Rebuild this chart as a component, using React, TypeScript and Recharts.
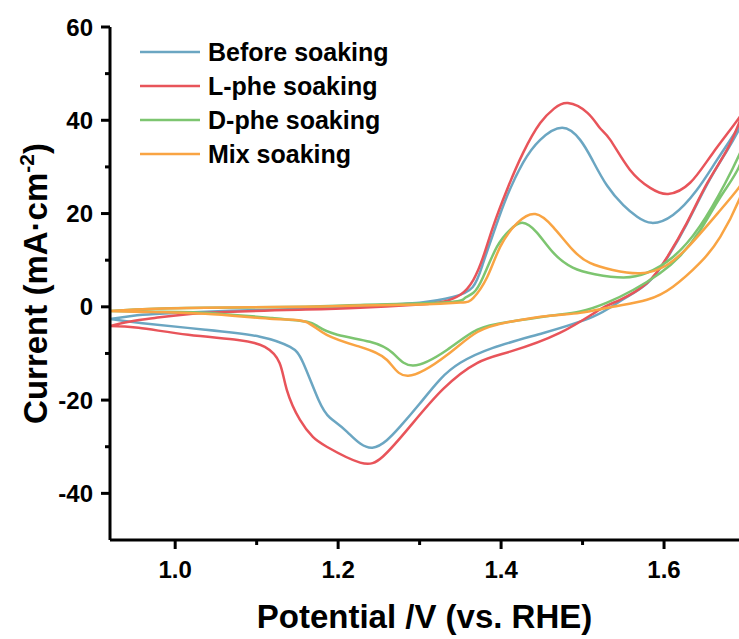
import React from 'react';
import { LineChart, Line, XAxis, YAxis, Legend, Label } from 'recharts';

// CV loops: forward sweep 0.92 -> 1.70 V, then reverse back to 0.92 V
const beforeSoaking: [number, number][] = [
  [0.92, -2.6], [0.96, -1.7], [1.0, -1.3], [1.08, -0.8], [1.16, -0.4], [1.227, 0.2], [1.3, 0.9],
  [1.341, 2.1], [1.365, 4.2], [1.378, 9.4], [1.392, 16.5], [1.407, 23.6], [1.427, 30.9], [1.448, 35.8],
  [1.475, 38.4], [1.497, 35.8], [1.512, 31.5], [1.53, 26.0], [1.55, 21.8], [1.567, 19.3], [1.585, 18.0],
  [1.611, 19.7], [1.64, 25], [1.665, 31.5], [1.692, 38.6], [1.7, 40.8],
  [1.692, 38.0], [1.677, 33.4], [1.653, 26.3], [1.628, 17.8], [1.604, 10.5], [1.579, 5.0], [1.546, 1.2],
  [1.513, -2.1], [1.452, -5.6], [1.39, -8.8], [1.35, -12], [1.325, -15.6], [1.3, -20.8], [1.276, -25.7],
  [1.242, -30.2], [1.211, -26.8], [1.19, -23.8], [1.176, -20.0], [1.157, -12], [1.141, -8.6], [1.104, -6.4],
  [1.037, -4.9], [0.96, -3.5], [0.92, -2.6],
];

const lPheSoaking: [number, number][] = [
  [0.92, -4.1], [0.95, -3.0], [0.975, -2.4], [1.037, -1.3], [1.16, -0.6], [1.227, -0.2], [1.3, 0.5],
  [1.329, 1.1], [1.35, 2.6], [1.366, 5.8], [1.378, 10.7], [1.39, 17.1], [1.407, 25], [1.427, 33],
  [1.448, 39.4], [1.465, 42.5], [1.482, 43.7], [1.506, 41.6], [1.521, 38.4], [1.534, 35.8], [1.558, 29.4],
  [1.583, 25.5], [1.605, 24.2], [1.632, 26.6], [1.66, 33], [1.692, 40.5], [1.7, 42.8],
  [1.692, 39.4], [1.677, 33.6], [1.653, 26.5], [1.628, 18], [1.604, 10.7], [1.579, 5.1], [1.546, 1.5],
  [1.521, -0.6], [1.472, -5.6], [1.411, -9.6], [1.371, -12], [1.329, -17.6], [1.288, -25.7], [1.255, -32.1],
  [1.227, -33.4], [1.186, -30], [1.169, -27.9], [1.153, -24.2], [1.137, -17.8], [1.128, -12], [1.11, -8.6],
  [1.077, -7.1], [1.016, -6.0], [0.955, -4.5], [0.92, -4.1],
];

const dPheSoaking: [number, number][] = [
  [0.92, -0.9], [0.96, -0.5], [1.037, -0.2], [1.16, 0], [1.227, 0.4], [1.33, 0.9], [1.355, 1.8],
  [1.366, 3.0], [1.378, 6.4], [1.395, 12.9], [1.411, 16.5], [1.426, 18], [1.444, 15.9], [1.464, 11.6],
  [1.488, 8.4], [1.515, 7.0], [1.55, 6.3], [1.579, 7.3], [1.611, 10.7], [1.644, 17.3], [1.675, 26.5],
  [1.692, 32.5], [1.7, 35],
  [1.692, 30], [1.669, 23.5], [1.644, 16.3], [1.62, 11], [1.595, 7.2], [1.562, 3.6], [1.53, 0.9],
  [1.497, -1.0], [1.46, -1.9], [1.411, -3.2], [1.371, -4.9], [1.334, -9.2], [1.292, -12.6], [1.267, -9.9],
  [1.239, -7.5], [1.199, -6.0], [1.175, -4.2], [1.162, -3.2], [1.119, -2.4], [1.037, -1.3], [0.96, -1.0],
  [0.92, -0.9],
];

const mixSoaking: [number, number][] = [
  [0.92, -0.9], [0.96, -0.5], [1.037, -0.2], [1.16, 0], [1.227, 0.3], [1.3, 0.5], [1.35, 0.9],
  [1.366, 1.9], [1.383, 6.4], [1.399, 12.9], [1.42, 18], [1.442, 19.9], [1.464, 17.1], [1.488, 12.2],
  [1.509, 9.4], [1.537, 7.9], [1.571, 7.2], [1.602, 8.8], [1.632, 13.3], [1.666, 20.1], [1.692, 25.6],
  [1.7, 27.5],
  [1.692, 22.9], [1.669, 15], [1.644, 9.4], [1.611, 4.3], [1.579, 1.5], [1.537, 0], [1.497, -1.3],
  [1.46, -1.9], [1.411, -3.2], [1.371, -5.4], [1.334, -10.3], [1.286, -14.8], [1.26, -11.4], [1.227, -8.6],
  [1.186, -6.0], [1.16, -3.2], [1.12, -2.6], [1.037, -1.5], [0.96, -1.1], [0.92, -0.9],
];

const xTicks = [1.0, 1.1, 1.2, 1.3, 1.4, 1.5, 1.6];
const yTicks = [-40, -30, -20, -10, 0, 10, 20, 30, 40, 50, 60];

const series = [
  { name: 'Before soaking', color: '#6BA6C2', points: beforeSoaking },
  { name: 'L-phe soaking', color: '#E8545A', points: lPheSoaking },
  { name: 'D-phe soaking', color: '#7DC570', points: dPheSoaking },
  { name: 'Mix soaking', color: '#F9A443', points: mixSoaking },
];

const font = 'Arial, "Liberation Sans", sans-serif';

const YTick = (props: any) => {
  const { x, y, payload } = props;
  const major = payload.value % 20 === 0;
  return (
    <g>
      <line x1={x} x2={x - (major ? 9 : 5)} y1={y} y2={y} stroke="#000" strokeWidth={3} />
      {major && (
        <text x={x - 17} y={y} dy={8.5} textAnchor="end" fontFamily={font} fontWeight={700} fontSize={24} fill="#000">
          {payload.value}
        </text>
      )}
    </g>
  );
};

const XTick = (props: any) => {
  const { x, y, payload } = props;
  const major = Math.round(payload.value * 10) % 2 === 0;
  return (
    <g>
      <line x1={x} x2={x} y1={y} y2={y + (major ? 9 : 5)} stroke="#000" strokeWidth={3} />
      {major && (
        <text x={x} y={y + 38} textAnchor="middle" fontFamily={font} fontWeight={700} fontSize={24} fill="#000">
          {payload.value.toFixed(1)}
        </text>
      )}
    </g>
  );
};

const YTitle = (props: any) => {
  const { viewBox } = props;
  const cx = 35;
  const cy = viewBox.y + viewBox.height / 2;
  return (
    <text
      x={cx}
      y={cy}
      transform={`rotate(-90 ${cx} ${cy})`}
      textAnchor="middle"
      dy={12}
      fontFamily={font}
      fontWeight={700}
      fontSize={33}
      fill="#000"
    >
      Current (mA·cm
      <tspan dy={-13} fontSize={21}>-2</tspan>
      <tspan dy={13}>)</tspan>
    </text>
  );
};

const renderLegend = () => (
  <div style={{ fontFamily: font, fontWeight: 700, fontSize: 25, color: '#000' }}>
    {series.map((s) => (
      <div key={s.name} style={{ display: 'flex', alignItems: 'center', height: 34 }}>
        <svg width={68} height={10}>
          <line x1={0} x2={60} y1={5} y2={5} stroke={s.color} strokeWidth={2.5} />
        </svg>
        <span style={{ lineHeight: '34px' }}>{s.name}</span>
      </div>
    ))}
  </div>
);

export default function App() {
  return (
    <div style={{ position: 'absolute', left: 0, top: 0, width: 739, height: 639 }}>
      <LineChart width={739} height={639} margin={{ top: 27, right: 0, bottom: 0, left: 8 }}>
        <XAxis
          dataKey="v"
          type="number"
          domain={[0.92, 1.692]}
          allowDataOverflow
          ticks={xTicks}
          tick={<XTick />}
          tickSize={0}
          tickMargin={0}
          axisLine={{ stroke: '#000', strokeWidth: 3 }}
          height={99}
        >
          <Label
            value="Potential /V (vs. RHE)"
            position="insideBottom"
            offset={11}
            style={{ fontFamily: font, fontWeight: 700, fontSize: 33, fill: '#000' }}
          />
        </XAxis>
        <XAxis
          xAxisId="top"
          orientation="top"
          type="number"
          domain={[0.92, 1.692]}
          tick={false}
          tickLine={false}
          axisLine={{ stroke: '#000', strokeWidth: 3 }}
          height={0}
        />
        <YAxis
          type="number"
          domain={[-50, 60]}
          allowDataOverflow
          ticks={yTicks}
          tick={<YTick />}
          tickSize={0}
          tickMargin={0}
          axisLine={{ stroke: '#000', strokeWidth: 3 }}
          width={102}
        >
          <Label content={<YTitle />} />
        </YAxis>
        <Legend
          layout="horizontal"
          verticalAlign="middle"
          align="center"
          content={renderLegend}
          wrapperStyle={{ position: 'absolute', left: 140, top: 35, width: 320, height: 136 }}
        />
        {series.map((s) => (
          <Line
            key={s.name}
            data={s.points.map(([v, i]) => ({ v, i }))}
            dataKey="i"
            name={s.name}
            type="natural"
            stroke={s.color}
            strokeWidth={2.5}
            dot={false}
            activeDot={false}
            isAnimationActive={false}
          />
        ))}
      </LineChart>
    </div>
  );
}
